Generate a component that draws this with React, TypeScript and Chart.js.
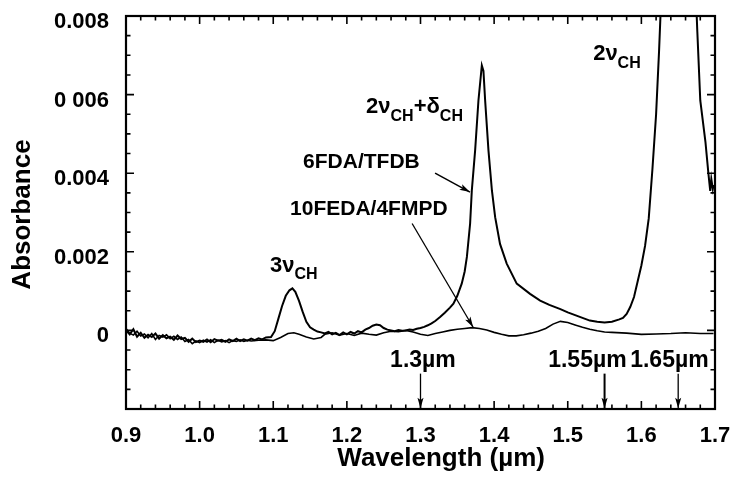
import React, { useEffect, useRef } from "react";
import { Chart, registerables } from "chart.js";

Chart.register(...registerables);

const FONT = '"Liberation Sans", Arial, Helvetica, sans-serif';

// ---- Data (wavelength in µm, absorbance) ----
const wavelength6FDA = [
  0.9, 0.905, 0.91, 0.915, 0.92, 0.925, 0.93, 0.935, 0.94, 0.945, 0.95, 0.955, 0.96, 0.965, 0.97, 0.975,
  0.98, 0.985, 0.99, 0.995, 1.0, 1.005, 1.01, 1.015, 1.02, 1.025, 1.03, 1.035, 1.04, 1.045, 1.05, 1.055,
  1.06, 1.065, 1.07, 1.075, 1.08, 1.085, 1.09, 1.097, 1.102, 1.107, 1.112, 1.117, 1.122, 1.126, 1.13,
  1.135, 1.14, 1.145, 1.15, 1.155, 1.16, 1.165, 1.17, 1.175, 1.18, 1.185, 1.19, 1.195, 1.2, 1.205, 1.21,
  1.215, 1.22, 1.225, 1.23, 1.235, 1.24, 1.245, 1.25, 1.255, 1.26, 1.265, 1.27, 1.275, 1.28, 1.285, 1.29,
  1.295, 1.3, 1.305, 1.31, 1.315, 1.32, 1.3266, 1.333, 1.34, 1.3447, 1.35, 1.356, 1.36, 1.363, 1.3674,
  1.3697, 1.3742, 1.3787, 1.3833, 1.3855, 1.3878, 1.3923, 1.397, 1.4014, 1.408, 1.4171, 1.4307, 1.4488,
  1.4625, 1.475, 1.49, 1.5, 1.51, 1.52, 1.53, 1.54, 1.55, 1.56, 1.57, 1.575, 1.58, 1.585, 1.59, 1.595,
  1.6, 1.605, 1.61, 1.615, 1.62, 1.624, 1.627, 1.635, 1.65, 1.665, 1.672, 1.676, 1.68, 1.687, 1.691,
  1.6935, 1.695, 1.697, 1.698,
];
const absorbance6FDA = [
  0.0, -0.0001, 0.00003, -0.00016, -0.00006, -0.00019, -0.00011, -0.00017, -0.00008, -0.00021, -0.00012,
  -0.0002, -0.00016, -0.00024, -0.00013, -0.00022, -0.00019, -0.00029, -0.00021, -0.0003, -0.00026,
  -0.00029, -0.00023, -0.0003, -0.00022, -0.00026, -0.00024, -0.00029, -0.00023, -0.00027, -0.00021,
  -0.00027, -0.00023, -0.00026, -0.00021, -0.00025, -0.0002, -0.00023, -0.00018, -0.00017, -0.00002,
  0.0003, 0.00062, 0.00088, 0.00102, 0.00107, 0.00098, 0.00075, 0.00047, 0.00022, 0.00008, 0.00002,
  -0.00003, -0.00005, -0.00008, -0.00004, -0.0001, -0.00006, -0.00012, -0.00005, -0.0001, -0.00004,
  -0.00008, -0.00002, -0.00005, 0.00002, 0.00006, 0.00012, 0.00015, 0.00013, 0.00006, 0.00002, 0.0,
  -0.00002, 0.00001, -0.00001, 0.0, 0.00002, 0.00001, 0.00004, 0.00006, 0.00009, 0.00013, 0.00018,
  0.00024, 0.00034, 0.00045, 0.00058, 0.00068, 0.00088, 0.00119, 0.0015, 0.00187, 0.00272, 0.00356,
  0.00458, 0.00585, 0.00674, 0.0066, 0.00585, 0.00458, 0.00356, 0.00288, 0.0022, 0.0017, 0.00119,
  0.00093, 0.00076, 0.00065, 0.00054, 0.00046, 0.00039, 0.00032, 0.00025, 0.00022, 0.0002, 0.00022,
  0.00028, 0.00032, 0.00042, 0.0006, 0.00085, 0.00125, 0.00165, 0.00215, 0.00285, 0.0041, 0.0055,
  0.0071, 0.0085, 0.011, 0.013, 0.012, 0.0095, 0.0076, 0.00585, 0.0048, 0.004, 0.00355, 0.00385,
  0.0036, 0.0037,
];

const wavelength10FEDA = [
  0.9, 0.905, 0.91, 0.915, 0.92, 0.925, 0.93, 0.935, 0.94, 0.945, 0.95, 0.955, 0.96, 0.965, 0.97, 0.975,
  0.98, 0.985, 0.99, 0.995, 1.0, 1.005, 1.01, 1.015, 1.02, 1.025, 1.03, 1.035, 1.04, 1.045, 1.05, 1.055,
  1.06, 1.065, 1.07, 1.08, 1.09, 1.1, 1.11, 1.12, 1.128, 1.135, 1.145, 1.155, 1.165, 1.17, 1.18, 1.19,
  1.2, 1.21, 1.22, 1.23, 1.24, 1.25, 1.26, 1.27, 1.28, 1.29, 1.3, 1.31, 1.32, 1.33, 1.34, 1.35, 1.36,
  1.37, 1.38, 1.39, 1.4, 1.41, 1.42, 1.43, 1.44, 1.45, 1.46, 1.47, 1.48, 1.49, 1.5, 1.51, 1.52, 1.53,
  1.54, 1.55, 1.56, 1.58, 1.6, 1.62, 1.64, 1.66, 1.68, 1.698,
];
const absorbance10FEDA = [
  0.00005, -0.00007, -0.00012, -0.00002, -0.00014, -0.00009, -0.00019, -0.00008, -0.00023, -0.00013,
  -0.00017, -0.00011, -0.00021, -0.00015, -0.00023, -0.00017, -0.00028, -0.00023, -0.00034, -0.00027,
  -0.00031, -0.00025, -0.0003, -0.00024, -0.00031, -0.00025, -0.00029, -0.00026, -0.00031, -0.00026,
  -0.00028, -0.00024, -0.00028, -0.00025, -0.00027, -0.00025, -0.00024, -0.00026, -0.00018, -0.00008,
  -0.00006, -0.0001, -0.00017, -0.00022, -0.00018, -0.0001, -0.00006, -0.00012, -0.00008, -0.00013,
  -0.00007, -0.0001, -0.00012, -0.00006, -0.00002, -0.00003, 0.0, -0.00004, -0.0001, -0.00013, -0.00008,
  -0.00004, 0.0, 0.00003, 0.00005, 0.00007, 0.00005, 0.00001, -0.00005, -0.0001, -0.00014, -0.00014,
  -0.00011, -0.00007, -0.00002, 0.00005, 0.00016, 0.00023, 0.0002, 0.00014, 0.00008, 0.00003, -0.00001,
  -0.00004, -0.00005, -0.00007, -0.0001, -0.00009, -0.00008, -0.00006, -0.00008, -0.00008,
];

const xTickValues = [0.9, 1.0, 1.1, 1.2, 1.3, 1.4, 1.5, 1.6, 1.7];
const xTickLabels = ["0.9", "1.0", "1.1", "1.2", "1.3", "1.4", "1.5", "1.6", "1.7"];
const yTickValues = [-0.002, 0, 0.002, 0.004, 0.006, 0.008];
const yTickLabels = ["", "0", "0.002", "0.004", "0 006", "0.008"];

const X_MIN = 0.9;
const X_MAX = 1.7;
const Y_MIN = -0.002;
const Y_MAX = 0.008;
const X_MINOR = 0.02;
const Y_MINOR = 0.0005;

type Part = { t: string; sub?: boolean };
const richLabels: { x: number; y: number; size: number; parts: Part[] }[] = [
  { x: 1.0957, y: 0.00148, size: 22, parts: [{ t: "3ν" }, { t: "CH", sub: true }] },
  {
    x: 1.2261,
    y: 0.00552,
    size: 22,
    parts: [{ t: "2ν" }, { t: "CH", sub: true }, { t: "+δ" }, { t: "CH", sub: true }],
  },
  { x: 1.5345, y: 0.00687, size: 22, parts: [{ t: "2ν" }, { t: "CH", sub: true }] },
  { x: 1.1405, y: 0.00412, size: 21, parts: [{ t: "6FDA/TFDB" }] },
  { x: 1.1228, y: 0.00293, size: 21, parts: [{ t: "10FEDA/4FMPD" }] },
  { x: 1.2587, y: -0.00094, size: 23, parts: [{ t: "1.3µm" }] },
  { x: 1.4734, y: -0.00094, size: 23, parts: [{ t: "1.55µm" }] },
  { x: 1.5848, y: -0.00094, size: 23, parts: [{ t: "1.65µm" }] },
];

const arrows = [
  { x1: 1.3198, y1: 0.004, x2: 1.3672, y2: 0.00352, w: 1.5 },
  { x1: 1.2886, y1: 0.00272, x2: 1.3715, y2: 0.00008, w: 1.3 },
  { x1: 1.3, y1: -0.0011, x2: 1.3, y2: -0.00198, w: 1.3 },
  { x1: 1.55, y1: -0.0011, x2: 1.55, y2: -0.00198, w: 2 },
  { x1: 1.65, y1: -0.0011, x2: 1.65, y2: -0.00198, w: 1.3 },
];

function drawArrow(ctx: CanvasRenderingContext2D, x1: number, y1: number, x2: number, y2: number, w: number) {
  ctx.lineWidth = w;
  ctx.beginPath();
  ctx.moveTo(x1, y1);
  ctx.lineTo(x2, y2);
  ctx.stroke();
  const ang = Math.atan2(y2 - y1, x2 - x1);
  const head = 11;
  const spread = 0.28;
  ctx.beginPath();
  ctx.moveTo(x2, y2);
  ctx.lineTo(x2 - head * Math.cos(ang - spread), y2 - head * Math.sin(ang - spread));
  ctx.lineTo(x2 - head * 0.75 * Math.cos(ang), y2 - head * 0.75 * Math.sin(ang));
  ctx.lineTo(x2 - head * Math.cos(ang + spread), y2 - head * Math.sin(ang + spread));
  ctx.closePath();
  ctx.fill();
}

const decorPlugin = {
  id: "decor",
  afterDraw(chart: any) {
    const { ctx, chartArea: a, scales } = chart;
    const xs = scales.x;
    const ys = scales.y;
    ctx.save();
    ctx.strokeStyle = "#000";
    ctx.fillStyle = "#000";
    ctx.lineCap = "butt";

    // inward ticks on all four sides
    ctx.lineWidth = 1.6;
    const nx = Math.round((X_MAX - X_MIN) / X_MINOR);
    for (let i = 0; i <= nx; i++) {
      const px = xs.getPixelForValue(X_MIN + i * X_MINOR);
      const len = i % 5 === 0 ? 8 : 4.5;
      ctx.beginPath();
      ctx.moveTo(px, a.bottom);
      ctx.lineTo(px, a.bottom - len);
      ctx.moveTo(px, a.top);
      ctx.lineTo(px, a.top + len);
      ctx.stroke();
    }
    const ny = Math.round((Y_MAX - Y_MIN) / Y_MINOR);
    for (let i = 0; i <= ny; i++) {
      const py = ys.getPixelForValue(Y_MIN + i * Y_MINOR);
      const len = i % 4 === 0 ? 8 : 4.5;
      ctx.beginPath();
      ctx.moveTo(a.left, py);
      ctx.lineTo(a.left + len, py);
      ctx.moveTo(a.right, py);
      ctx.lineTo(a.right - len, py);
      ctx.stroke();
    }

    // frame
    ctx.lineWidth = 2.2;
    ctx.strokeRect(a.left, a.top, a.right - a.left, a.bottom - a.top);

    // annotation texts
    ctx.textBaseline = "alphabetic";
    ctx.textAlign = "left";
    for (const lab of richLabels) {
      let cx = xs.getPixelForValue(lab.x);
      const by = ys.getPixelForValue(lab.y);
      for (const p of lab.parts) {
        const fs = p.sub ? Math.round(lab.size * 0.72) : lab.size;
        ctx.font = `bold ${fs}px ${FONT}`;
        ctx.fillText(p.t, cx, p.sub ? by + lab.size * 0.33 : by);
        cx += ctx.measureText(p.t).width;
      }
    }

    // arrows
    for (const ar of arrows) {
      drawArrow(
        ctx,
        xs.getPixelForValue(ar.x1),
        ys.getPixelForValue(ar.y1),
        xs.getPixelForValue(ar.x2),
        ys.getPixelForValue(ar.y2),
        ar.w
      );
    }

    // axis titles
    ctx.font = `bold 26px ${FONT}`;
    ctx.textAlign = "center";
    ctx.textBaseline = "alphabetic";
    ctx.fillText("Wavelength (µm)", xs.getPixelForValue(1.328), a.bottom + 57);
    ctx.save();
    ctx.translate(30, (a.top + a.bottom) / 2 + 2);
    ctx.rotate(-Math.PI / 2);
    ctx.fillText("Absorbance", 0, 0);
    ctx.restore();

    ctx.restore();
  },
};

export default function App() {
  const canvasRef = useRef<HTMLCanvasElement | null>(null);

  useEffect(() => {
    document.body.style.margin = "0";
    const canvas = canvasRef.current;
    if (!canvas) return;
    const chart = new Chart(canvas, {
      type: "line",
      data: {
        datasets: [
          {
            label: "6FDA/TFDB",
            data: wavelength6FDA.map((x, i) => ({ x, y: absorbance6FDA[i] })),
            borderColor: "#000",
            borderWidth: 2,
            pointRadius: 0,
            tension: 0,
            fill: false,
            clip: 0,
          },
          {
            label: "10FEDA/4FMPD",
            data: wavelength10FEDA.map((x, i) => ({ x, y: absorbance10FEDA[i] })),
            borderColor: "#000",
            borderWidth: 1.6,
            pointRadius: 0,
            tension: 0,
            fill: false,
            clip: 0,
          },
        ],
      },
      options: {
        responsive: false,
        animation: false,
        events: [],
        layout: { padding: { top: 16, right: 16, left: 0, bottom: 0 } },
        plugins: {
          legend: { display: false },
          tooltip: { enabled: false },
          title: { display: false },
        },
        scales: {
          x: {
            type: "linear",
            min: X_MIN,
            max: X_MAX,
            grid: { display: false },
            border: { display: false },
            afterBuildTicks: (scale: any) => {
              scale.ticks = xTickValues.map((v) => ({ value: v }));
            },
            afterFit: (scale: any) => {
              scale.height = 76;
              scale.paddingLeft = 0;
              scale.paddingRight = 0;
              scale.paddingTop = 0;
              scale.paddingBottom = 0;
            },
            ticks: {
              autoSkip: false,
              maxRotation: 0,
              padding: 6,
              color: "#000",
              font: { family: FONT, size: 22, weight: "bold" },
              callback: (_v: any, i: number) => xTickLabels[i],
            },
          },
          y: {
            type: "linear",
            min: Y_MIN,
            max: Y_MAX,
            grid: { display: false },
            border: { display: false },
            afterBuildTicks: (scale: any) => {
              scale.ticks = yTickValues.map((v) => ({ value: v }));
            },
            afterFit: (scale: any) => {
              scale.width = 126;
              scale.paddingLeft = 0;
              scale.paddingRight = 0;
              scale.paddingTop = 0;
              scale.paddingBottom = 0;
            },
            ticks: {
              autoSkip: false,
              padding: 9,
              labelOffset: 6,
              color: "#000",
              font: { family: FONT, size: 22, weight: "bold" },
              callback: (_v: any, i: number) => yTickLabels[i],
            },
          },
        },
      },
      plugins: [decorPlugin],
    } as any);
    return () => chart.destroy();
  }, []);

  return (
    <div style={{ position: "absolute", left: 0, top: 0, width: 731, height: 485, background: "#fff" }}>
      <canvas ref={canvasRef} width={731} height={485} style={{ width: 731, height: 485, display: "block" }} />
    </div>
  );
}
